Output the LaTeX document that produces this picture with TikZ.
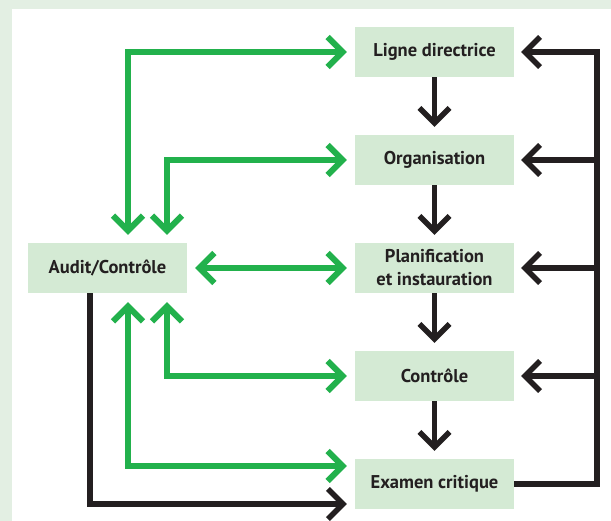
\documentclass[tikz,border=0pt]{standalone}
\usepackage{fontspec}
\setmainfont{PT Sans}
\usetikzlibrary{arrows.meta,calc}
\definecolor{frameg}{HTML}{E3EFE3}
\definecolor{boxg}{HTML}{D4EAD4}
\definecolor{grn}{HTML}{22B14C}
\definecolor{ink}{HTML}{231F20}
\begin{document}
\begin{tikzpicture}[x=1pt,y=-1pt,
  box/.style={fill=boxg, minimum width=159pt, minimum height=50pt, inner sep=0pt,
    text=ink, font=\fontsize{18.5}{23}\selectfont\bfseries, align=center},
  chev/.tip={Straight Barb[length=15pt,width=30pt]},
  blk/.style={draw=ink, line width=5.5pt, -chev},
  gline/.style={draw=grn, line width=6pt, chev-chev, shorten <=8pt, shorten >=8pt},
]
\fill[frameg] (0,0) rectangle (611,521);
\fill[white] (12,9) rectangle (611,521);
\useasboundingbox (0,0) rectangle (611,521);

\node[box] (ligne) at (434.5,52) {Ligne directrice};
\node[box] (org) at (434.5,160) {Organisation};
\node[box] (plan) at (434.5,268) {Planification\\et instauration};
\node[box] (ctrl) at (434.5,376) {Contrôle};
\node[box] (exam) at (434.5,484) {Examen critique};
\node[box] (audit) at (107.5,268) {Audit/Contrôle};

\coordinate (rail) at (597,0);
\coordinate (g1) at (128,0);
\coordinate (g2) at (167,0);
\coordinate (b1) at (90,0);

% downward flow
\draw[blk, shorten >=8pt] (ligne.south) -- (org.north);
\draw[blk, shorten >=8pt] (org.south) -- (plan.north);
\draw[blk, shorten >=8pt] (plan.south) -- (ctrl.north);
\draw[blk, shorten >=8pt] (ctrl.south) -- (exam.north);

% feedback rail
\draw[blk, shorten >=7pt] (exam.east) -| (rail |- ligne.east) -- (ligne.east);
\draw[blk, shorten >=7pt] (rail |- org.east) -- (org.east);
\draw[blk, shorten >=7pt] (rail |- plan.east) -- (plan.east);
\draw[blk, shorten >=7pt] (rail |- ctrl.east) -- (ctrl.east);

% audit links
\draw[gline] (audit.north -| g1) |- (ligne.west);
\draw[gline] (audit.north -| g2) |- (org.west);
\draw[gline] (audit.east) -- (plan.west);
\draw[gline, shorten <=9pt] (audit.south -| g2) |- (ctrl.west);
\draw[gline, shorten <=9pt] (audit.south -| g1) |- ($(exam.west)+(0,-18)$);
\draw[blk, shorten >=8pt] (audit.south -| b1) |- ($(exam.west)+(0,20)$);
\end{tikzpicture}
\end{document}
